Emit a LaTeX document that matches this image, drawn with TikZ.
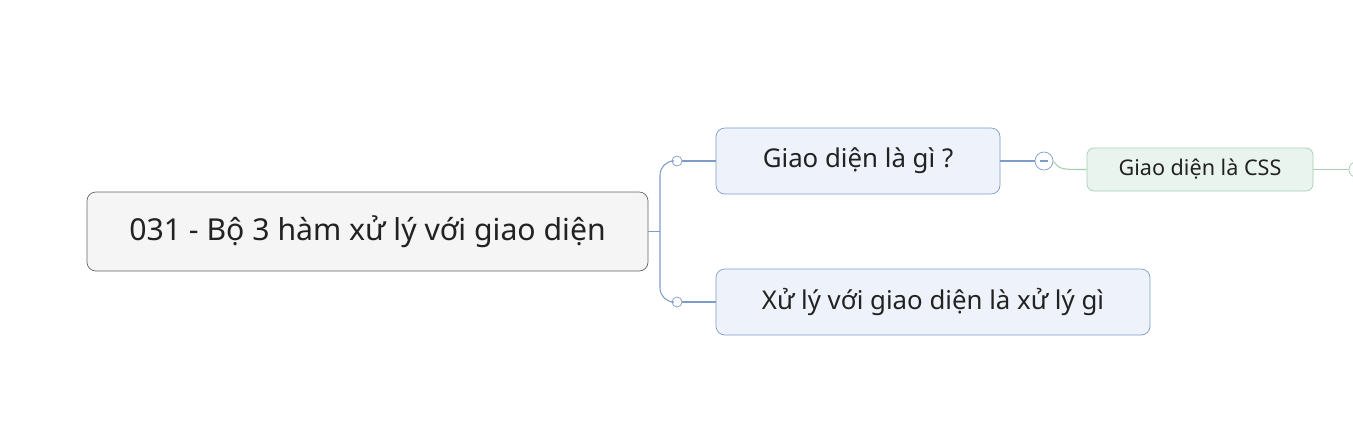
\documentclass[tikz,border=0pt]{standalone}
\usepackage{fontspec}
\setmainfont{Noto Sans}
\usetikzlibrary{positioning}
\definecolor{rootline}{HTML}{666666}
\definecolor{rootfill}{HTML}{F5F5F5}
\definecolor{topline}{HTML}{7F9CC8}
\definecolor{topfill}{HTML}{EEF3FB}
\definecolor{subline}{HTML}{A8CDB6}
\definecolor{subfill}{HTML}{EAF4EE}
\definecolor{txt}{HTML}{222222}
\tikzset{
  font={\fontsize{17.2pt}{20pt}\selectfont},
  rootbox/.style={draw=rootline,fill=rootfill,rounded corners=5pt,text=txt,
    minimum width=561*0.02cm,minimum height=79*0.02cm,inner sep=0pt},
  topicbox/.style={draw=topline,fill=topfill,rounded corners=5pt,text=txt,
    minimum height=66*0.02cm,inner sep=0pt,font={\fontsize{14.7pt}{17pt}\selectfont}},
  subbox/.style={draw=subline,fill=subfill,rounded corners=4pt,text=txt,
    minimum height=43*0.02cm,inner sep=0pt,font={\fontsize{12.3pt}{14pt}\selectfont}},
  knob/.style={circle,draw=topline,fill=white,minimum size=10*0.02cm,inner sep=0pt},
  bigknob/.style={circle,draw=topline,fill=white,minimum size=18*0.02cm,inner sep=0pt},
  link/.style={draw=topline,line width=0.6pt},
  greenlink/.style={draw=subline,line width=0.6pt}}

\begin{document}
\begin{tikzpicture}[x=0.02cm,y=-0.02cm]
\useasboundingbox[fill=white] (0,0) rectangle (1353,441);
\node[rootbox]  (root) at (367.5,231.5) {031 - Bộ 3 hàm xử lý với giao diện};
\node[topicbox,minimum width=284*0.02cm] (giaodien) at (858,161) {Giao diện là gì ?};
\node[topicbox,minimum width=434*0.02cm] (xuly)     at (933,302) {Xử lý với giao diện là xử lý gì};
\node[subbox,minimum width=226*0.02cm]   (css)      at (1200,169.5) {Giao diện là CSS};
\coordinate (fork) at (660,231.5);
\node[knob] (knobA) at (677,161) {};
\node[knob] (knobB) at (677,302) {};
\node[bigknob] (fold) at (1044,161) {};
\draw[topline,line width=0.6pt] ([xshift=-4*0.02cm]fold.center) -- ([xshift=4*0.02cm]fold.center);
\node[knob,minimum size=16*0.02cm,draw=subline] (more) at (1357,169.5) {};
\path[link] (root.east) -- (fork);
\path[link,rounded corners=8pt] (fork) |- (knobA.west);
\path[link,rounded corners=8pt] (fork) |- (knobB.west);
\path[link] (knobA.east) -- (giaodien.west);
\path[link] (knobB.east) -- (xuly.west);
\path[link] (giaodien.east) -- (fold.west);
\path[greenlink] (fold.east) .. controls (1060,169.5) .. (css.west);
\path[greenlink] (css.east) -- (more.west);
\end{tikzpicture}
\end{document}
